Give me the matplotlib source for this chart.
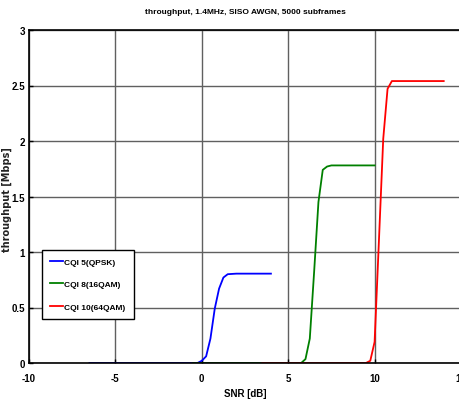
import matplotlib
matplotlib.use("Agg")
import matplotlib.pyplot as plt

plt.rcParams['font.family'] = ['Liberation Sans', 'DejaVu Sans']

title = "throughput, 1.4MHz, SISO AWGN, 5000 subframes"
xlabel = "SNR [dB]"
ylabel = "throughput [Mbps]"

labels = ["CQI 5(QPSK)", "CQI 8(16QAM)", "CQI 10(64QAM)"]
colors = ["#0000ff", "#008000", "#ff0000"]

snr_cqi5 = [-6.5, -5, -3, -1, -0.25, 0.0, 0.25, 0.5, 0.75, 1.0, 1.25, 1.5, 2.0, 3.0, 4.0]
thr_cqi5 = [0, 0, 0, 0, 0, 0.02, 0.06, 0.22, 0.49, 0.67, 0.77, 0.80, 0.805, 0.805, 0.805]

snr_cqi8 = [-0.5, 1, 3, 5, 5.75, 6.0, 6.25, 6.5, 6.75, 7.0, 7.25, 7.5, 8.5, 10.0]
thr_cqi8 = [0, 0, 0, 0, 0, 0.035, 0.22, 0.82, 1.45, 1.74, 1.77, 1.78, 1.78, 1.78]

snr_cqi10 = [3.5, 5, 7, 9, 9.5, 9.75, 10.0, 10.25, 10.5, 10.75, 11.0, 12.0, 14.0]
thr_cqi10 = [0, 0, 0, 0, 0, 0.02, 0.19, 1.1, 2.02, 2.47, 2.54, 2.54, 2.54]

xticks = [-10, -5, 0, 5, 10, 15]
yticks = [0, 0.5, 1, 1.5, 2, 2.5, 3]
ytick_labels = ["0", "0.5", "1", "1.5", "2", "2.5", "3"]

fig = plt.figure(figsize=(4.6, 4.06), dpi=100)
ax = fig.add_axes([29/460, 1 - 364/406, 432/460, 333/406])

for x, y, c, l in zip([snr_cqi5, snr_cqi8, snr_cqi10],
                      [thr_cqi5, thr_cqi8, thr_cqi10], colors, labels):
    ax.plot(x, y, color=c, lw=1.3, label=l)

ax.set_xlim(-10, 15)
ax.set_ylim(0, 3)
ax.set_xticks(xticks)
ax.set_yticks(yticks)
ax.set_xticklabels([str(t) for t in xticks], fontweight='bold', fontsize=7)
ax.set_yticklabels(ytick_labels, fontweight='bold', fontsize=7)
ax.tick_params(direction='in', length=3, width=1)
ax.tick_params(axis='x', pad=7)
ax.tick_params(axis='y', pad=3)
ax.grid(True, color='#606060', lw=1, ls='-')
ax.set_axisbelow(True)
for s in ax.spines.values():
    s.set_color('black')
    s.set_linewidth(1.2)

ax.set_title(title, fontsize=6, fontweight='bold', pad=12)
ax.set_xlabel(xlabel, fontsize=7, fontweight='bold', labelpad=4)
fig.text(7/460, 1 - 200/406, ylabel, rotation=90, ha='center', va='center',
         fontsize=7, fontweight='bold', color='#222222', family=['DejaVu Sans'])

leg = ax.legend(loc='lower left', bbox_to_anchor=((42 - 29) / 432, (364 - 320) / 333),
                prop={'weight': 'bold', 'size': 6}, fancybox=False, framealpha=1,
                edgecolor='black', handlelength=1.5, handletextpad=0.15,
                borderpad=1.0, labelspacing=1.75, borderaxespad=0)
leg.get_frame().set_linewidth(1.0)

fig.savefig("out.png", dpi=100)
